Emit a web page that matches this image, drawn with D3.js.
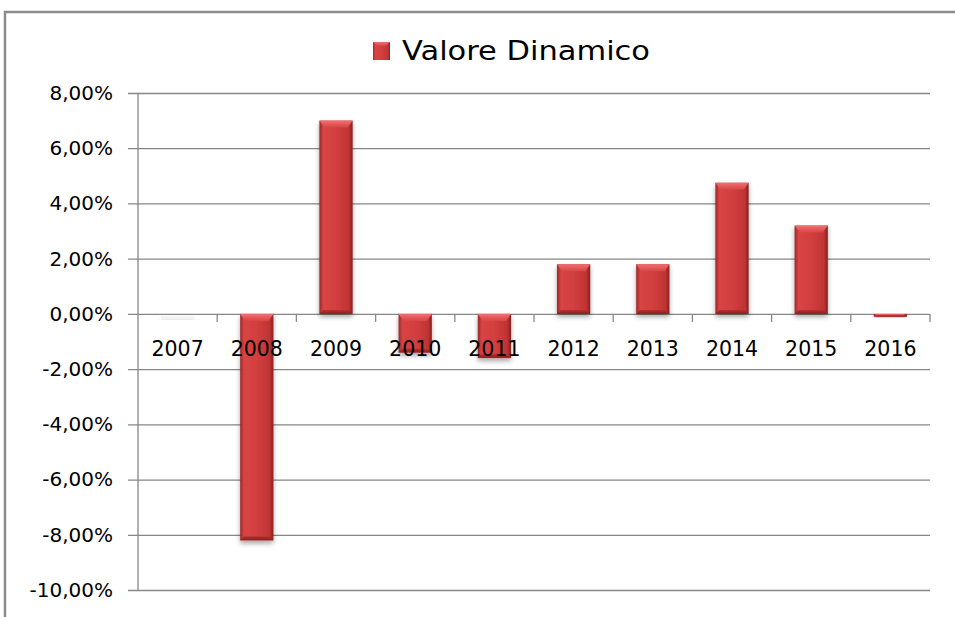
<!DOCTYPE html>
<html>
<head>
<meta charset="utf-8">
<script src="https://cdn.jsdelivr.net/npm/d3@7"></script>
<style>
  body { margin: 0; background: #fff; }
  svg { display: block; font-family: "DejaVu Sans", sans-serif; }
</style>
</head>
<body>
<div id="chart"></div>
<script>
/* chart data */
const years = ["2007", "2008", "2009", "2010", "2011", "2012", "2013", "2014", "2015", "2016"];
const values = [0.0, -8.2, 7.0, -1.4, -1.6, 1.8, 1.8, 4.75, 3.2, -0.1];
const yTicks = [8, 6, 4, 2, 0, -2, -4, -6, -8, -10];
const seriesName = "Valore Dinamico";

const W = 955, H = 617;
const svg = d3.select("#chart").append("svg")
  .attr("width", W)
  .attr("height", H);

const defs = svg.append("defs");
var grad = defs.append("linearGradient")
  .attr("id", "barGrad")
  .attr("x1", 0).attr("x2", 1).attr("y1", 0).attr("y2", 0);
grad.append("stop").attr("offset", "0%").attr("stop-color", "#9c2626");
grad.append("stop").attr("offset", "12%").attr("stop-color", "#d84444");
grad.append("stop").attr("offset", "50%").attr("stop-color", "#d23f3f");
grad.append("stop").attr("offset", "88%").attr("stop-color", "#c03434");
grad.append("stop").attr("offset", "100%").attr("stop-color", "#872020");

var topGrad = defs.append("linearGradient")
  .attr("id", "topGrad")
  .attr("x1", 0).attr("x2", 0).attr("y1", 0).attr("y2", 1);
topGrad.append("stop").attr("offset", "0%").attr("stop-color", "#f07070");
topGrad.append("stop").attr("offset", "100%").attr("stop-color", "#d84444");

var botGrad = defs.append("linearGradient")
  .attr("id", "botGrad")
  .attr("x1", 0).attr("x2", 0).attr("y1", 0).attr("y2", 1);
botGrad.append("stop").attr("offset", "0%").attr("stop-color", "#b83030");
botGrad.append("stop").attr("offset", "100%").attr("stop-color", "#8a2020");

var shadow = defs.append("filter")
  .attr("id", "shadow")
  .attr("x", "-30%").attr("y", "-30%").attr("width", "160%").attr("height", "160%");
shadow.append("feGaussianBlur").attr("in", "SourceAlpha").attr("stdDeviation", 2.5);
shadow.append("feOffset").attr("dx", 0).attr("dy", 3).attr("result", "off");
shadow.append("feComponentTransfer").append("feFuncA").attr("type", "linear").attr("slope", 0.35);
var merge = shadow.append("feMerge");
merge.append("feMergeNode");
merge.append("feMergeNode").attr("in", "SourceGraphic");

// outer frame
svg.append("path")
  .attr("d", "M5," + (H + 5) + " V12 H" + (W + 5))
  .attr("fill", "none")
  .attr("stroke", "#8c8c8c")
  .attr("stroke-width", 2.5);

const plotLeft = 138, plotRight = 930;

const x = d3.scaleBand()
  .domain(years)
  .range([plotLeft, plotRight])
  .paddingInner(0.58)
  .paddingOuter(0.29);

const y = d3.scaleLinear()
  .domain([-10, 8])
  .range([590, 93]);

const pct = d => d3.format(".2f")(Math.abs(d)).replace(".", ",") + "%";

// gridlines + y labels
const yAxis = d3.axisLeft(y)
  .tickValues(yTicks)
  .tickSize(-(plotRight - plotLeft + 10))
  .tickPadding(15)
  .tickFormat(d => (d < 0 ? "-" : "") + pct(d));

const gy = svg.append("g")
  .attr("transform", "translate(" + (plotLeft - 10) + ",0)")
  .call(yAxis);
gy.select(".domain").remove();
gy.selectAll(".tick line")
  .attr("stroke", "#868686")
  .attr("stroke-width", 1.3);
gy.selectAll(".tick text")
  .attr("fill", "#000")
  .attr("font-size", 20)
  .attr("font-family", "DejaVu Sans, sans-serif");

// vertical axis line
svg.append("line")
  .attr("x1", plotLeft).attr("x2", plotLeft)
  .attr("y1", y(8)).attr("y2", y(-10))
  .attr("stroke", "#868686")
  .attr("stroke-width", 1.3);

// category ticks on zero line
const boundaries = years.map(d => x(d) - x.step() * x.paddingInner() / 2).slice(1).concat([plotRight]);
svg.append("g").selectAll("line")
  .data(boundaries)
  .enter().append("line")
  .attr("x1", d => d).attr("x2", d => d)
  .attr("y1", y(0)).attr("y2", y(0) + 8)
  .attr("stroke", "#868686")
  .attr("stroke-width", 1.3);

// bars
const bars = svg.append("g").attr("class", "bars")
  .selectAll("g")
  .data(years.map((d, i) => ({year: d, value: values[i]})))
  .enter().append("g")
  .attr("filter", "url(#shadow)");

bars.each(function(d) {
  const g = d3.select(this);
  const bx = x(d.year), bw = x.bandwidth();
  const y0 = y(Math.max(0, d.value)), y1 = y(Math.min(0, d.value));
  const h = Math.max(0.01, y1 - y0);
  if (d.value === 0) {
    g.append("rect")
      .attr("x", bx).attr("y", y(0) + 2)
      .attr("width", bw).attr("height", 3)
      .attr("fill", "#ececec").attr("opacity", 0.6);
    return;
  }
  g.append("rect")
    .attr("x", bx).attr("y", y0)
    .attr("width", bw).attr("height", h)
    .attr("fill", "url(#barGrad)");
  const bev = Math.min(7, h / 2);
  // top bevel
  g.append("path")
    .attr("d", "M" + bx + "," + y0 + " H" + (bx + bw) + " L" + (bx + bw - 5) + "," + (y0 + bev) + " H" + (bx + 5) + " Z")
    .attr("fill", "url(#topGrad)");
  // bottom bevel
  g.append("path")
    .attr("d", "M" + bx + "," + (y0 + h) + " H" + (bx + bw) + " L" + (bx + bw - 4) + "," + (y0 + h - Math.min(4, h / 2)) + " H" + (bx + 4) + " Z")
    .attr("fill", "url(#botGrad)");
});

// category labels
svg.append("g").selectAll("text")
  .data(years)
  .enter().append("text")
  .attr("x", d => x(d) + x.bandwidth() / 2)
  .attr("y", y(0) + 42)
  .attr("text-anchor", "middle")
  .attr("font-size", 20.5)
  .attr("fill", "#000")
  .text(d => d);

// legend
const legend = svg.append("g").attr("transform", "translate(373,42)");
legend.append("rect")
  .attr("width", 17).attr("height", 18)
  .attr("fill", "url(#barGrad)");
legend.append("path")
  .attr("d", "M0,0 H17 L13,4 H4 Z")
  .attr("fill", "url(#topGrad)");
legend.append("text")
  .attr("x", 29)
  .attr("y", 18)
  .attr("font-size", 26)
  .attr("textLength", 248)
  .attr("lengthAdjust", "spacingAndGlyphs")
  .attr("fill", "#000")
  .text(seriesName);
</script>
</body>
</html>
